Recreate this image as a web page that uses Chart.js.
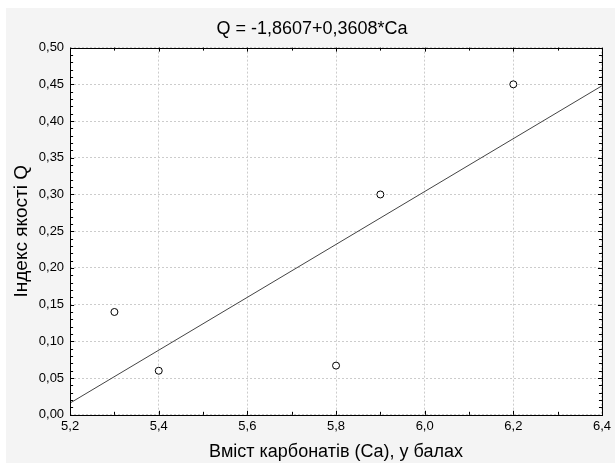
<!DOCTYPE html>
<html>
<head>
<meta charset="utf-8">
<script src="https://cdn.jsdelivr.net/npm/chart.js@4.4.1/dist/chart.umd.min.js"></script>
<style>
    html, body { margin: 0; padding: 0; background: #ffffff; }
    #wrap { width: 615px; height: 463px; }
</style>
</head>
<body>
<div id="wrap"><canvas id="regChart" width="615" height="463"></canvas></div>
<script>
// Chart data
const caValues = [5.3, 5.4, 5.8, 5.9, 6.2];
const qValues = [0.14, 0.06, 0.067, 0.30, 0.45];

// Regression line end points
const fitCa = [5.2, 6.4];
const fitQ = [0.016, 0.448];

// Axis ranges and steps
const xRange = [5.2, 6.4];
const yRange = [0, 0.5];
const xStep = 0.2;
const yStep = 0.05;
const xMinorStep = 0.1;
const yMinorStep = 0.01;

const titleText = 'Q = -1,8607+0,3608*Ca';
const xTitle = 'Вміст карбонатів (Ca), у балах';
const yTitle = 'Індекс якості Q';

const FONT = "'Liberation Sans', Arial, sans-serif";

// Paint the grey panel and the white plot area
const panelPlugin = {
    id: 'panelPlugin',
    beforeDraw(chart) {
        const ctx = chart.ctx;
        const a = chart.chartArea;
        ctx.save();
        ctx.fillStyle = '#ffffff';
        ctx.fillRect(0, 0, chart.width, chart.height);
        ctx.fillStyle = '#f4f4f4';
        ctx.fillRect(6, 8, chart.width - 6, chart.height - 8);
        ctx.fillStyle = '#ffffff';
        ctx.fillRect(a.left, a.top, a.right - a.left, a.bottom - a.top);
        ctx.restore();
    }
};

// Frame and inward tick marks on all four sides
const framePlugin = {
    id: 'framePlugin',
    afterDraw(chart) {
        const ctx = chart.ctx;
        const a = chart.chartArea;
        const xs = chart.scales.x;
        const ys = chart.scales.y;
        ctx.save();
        ctx.strokeStyle = '#000000';
        ctx.lineWidth = 1;

        ctx.beginPath();
        // minor + major ticks on x
        const nx = Math.round((xRange[1] - xRange[0]) / xMinorStep);
        for (let i = 0; i <= nx; i++) {
            const v = xRange[0] + i * xMinorStep;
            const px = Math.round(xs.getPixelForValue(v)) + 0.5;
            const len = (i % Math.round(xStep / xMinorStep) === 0) ? 4 : 3;
            ctx.moveTo(px, a.bottom);
            ctx.lineTo(px, a.bottom - len);
            ctx.moveTo(px, a.top);
            ctx.lineTo(px, a.top + len);
        }
        // minor + major ticks on y
        const ny = Math.round((yRange[1] - yRange[0]) / yMinorStep);
        for (let j = 0; j <= ny; j++) {
            const v = yRange[0] + j * yMinorStep;
            const py = Math.round(ys.getPixelForValue(v)) + 0.5;
            const len = (j % Math.round(yStep / yMinorStep) === 0) ? 4 : 3;
            ctx.moveTo(a.left, py);
            ctx.lineTo(a.left + len, py);
            ctx.moveTo(a.right, py);
            ctx.lineTo(a.right - len, py);
        }
        ctx.stroke();

        ctx.strokeRect(Math.round(a.left) + 0.5, Math.round(a.top) + 0.5,
            Math.round(a.right - a.left), Math.round(a.bottom - a.top));
        ctx.restore();
    }
};

function commaNumber(value, digits) {
    return Number(value).toFixed(digits).replace('.', ',');
}

function buildPoints(xs, ys) {
    return xs.map((x, i) => ({ x: x, y: ys[i] }));
}

const ctx = document.getElementById('regChart').getContext('2d');
const regChart = new Chart(ctx, {
    type: 'scatter',
    data: {
        datasets: [{
            label: 'Q',
            data: buildPoints(caValues, qValues),
            pointRadius: 3.5,
            pointBorderWidth: 1,
            pointBorderColor: '#000000',
            pointBackgroundColor: '#ffffff',
            showLine: false
        }, {
            label: 'fit',
            data: buildPoints(fitCa, fitQ),
            showLine: true,
            borderColor: '#444444',
            borderWidth: 1,
            pointRadius: 0,
            fill: false
        }]
    },
    options: {
        responsive: false,
        animation: false,
        events: [],
        layout: {
            // left padding pushes the title centre right, like the original
            padding: { top: 0, left: 20, right: 11, bottom: 0 }
        },
        plugins: {
            legend: { display: false },
            tooltip: { enabled: false },
            title: {
                display: true,
                text: titleText,
                color: '#000000',
                font: { family: FONT, size: 18, weight: 'normal' },
                padding: { top: 18, bottom: 8 }
            }
        },
        scales: {
            x: {
                type: 'linear',
                min: xRange[0],
                max: xRange[1],
                border: { display: false, dash: [2, 2] },
                grid: {
                    color: '#cccccc',
                    drawTicks: false
                },
                ticks: {
                    stepSize: xStep,
                    padding: 4,
                    color: '#000000',
                    font: { family: FONT, size: 13 },
                    callback: (v) => commaNumber(v, 1)
                },
                title: {
                    display: true,
                    text: xTitle,
                    color: '#000000',
                    font: { family: FONT, size: 18 },
                    padding: { top: 3, bottom: 0 }
                }
            },
            y: {
                type: 'linear',
                min: yRange[0],
                max: yRange[1],
                border: { display: false, dash: [2, 2] },
                grid: {
                    color: '#cccccc',
                    drawTicks: false
                },
                ticks: {
                    stepSize: yStep,
                    padding: 6,
                    color: '#000000',
                    font: { family: FONT, size: 13 },
                    callback: (v) => commaNumber(v, 2)
                },
                title: {
                    display: true,
                    text: yTitle,
                    color: '#000000',
                    font: { family: FONT, size: 19 },
                    padding: { top: -10, bottom: 0 }
                }
            }
        }
    },
    plugins: [panelPlugin, framePlugin]
});
</script>
</body>
</html>
